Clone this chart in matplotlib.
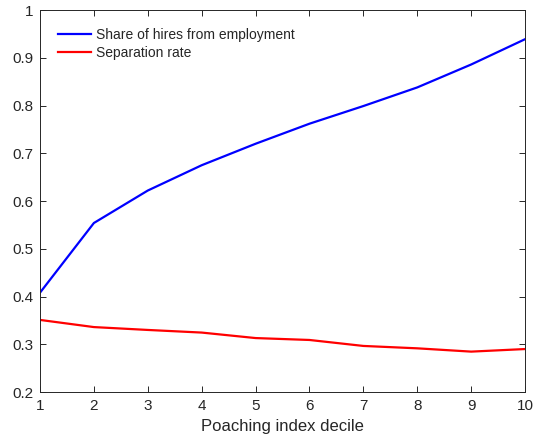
import matplotlib
matplotlib.use("Agg")
import matplotlib.pyplot as plt

deciles = [1, 2, 3, 4, 5, 6, 7, 8, 9, 10]
share_from_employment = [0.408, 0.554, 0.622, 0.675, 0.720, 0.762, 0.799, 0.838, 0.886, 0.939]
separation_rate = [0.351, 0.336, 0.330, 0.3245, 0.313, 0.309, 0.2965, 0.2915, 0.2846, 0.290]

plt.rcParams['font.family'] = ['Liberation Sans', 'DejaVu Sans']
INK = "#262626"

fig = plt.figure(figsize=(5.36, 4.38), dpi=100)
ax = fig.add_axes([0.0746, 0.105, 0.905, 0.872])

ax.plot(deciles, share_from_employment, color="#0000ff", lw=1.6, label="Share of hires from employment")
ax.plot(deciles, separation_rate, color="#ff0000", lw=1.6, label="Separation rate")

ax.set_xlim(1, 10)
ax.set_ylim(0.2, 1.0)
ax.set_xticks(deciles)
ax.set_yticks([0.2, 0.3, 0.4, 0.5, 0.6, 0.7, 0.8, 0.9, 1.0])
ax.set_yticklabels(["0.2", "0.3", "0.4", "0.5", "0.6", "0.7", "0.8", "0.9", "1"])
ax.tick_params(direction="in", top=True, right=True, length=4, width=0.7,
               colors=INK, labelsize=11, pad=5)
for sp in ax.spines.values():
    sp.set_color(INK)
    sp.set_linewidth(0.7)
ax.set_xlabel("Poaching index decile", fontsize=12, color=INK, labelpad=4)

leg = ax.legend(loc="upper left", frameon=False, fontsize=10, handlelength=2.4,
                handletextpad=0.3, labelspacing=0.3, borderaxespad=0.9)
for t in leg.get_texts():
    t.set_color(INK)

fig.savefig("out.png", dpi=100)
